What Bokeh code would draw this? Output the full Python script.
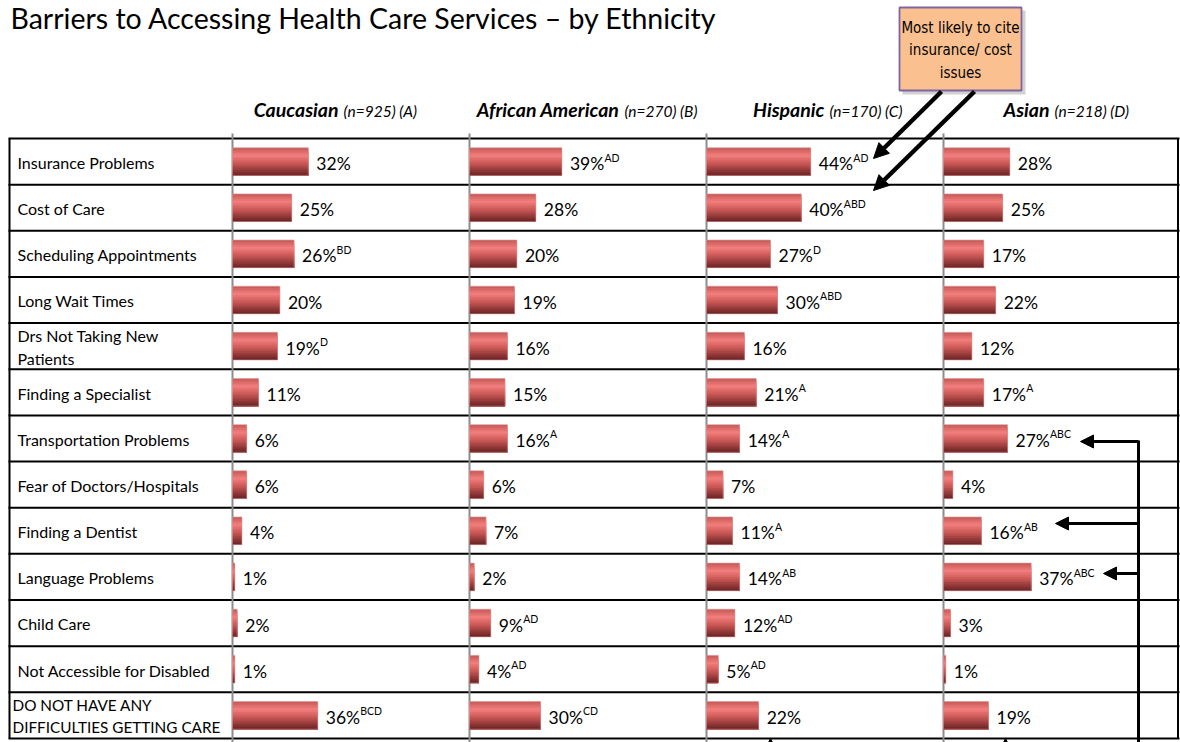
from bokeh.plotting import figure
from bokeh.models import ColumnDataSource, Range1d, Arrow, NormalHead
from bokeh.core.properties import value
from bokeh.embed import file_html
from bokeh.resources import INLINE

# ---------------- data ----------------
barriers = [
    "Insurance Problems",
    "Cost of Care",
    "Scheduling Appointments",
    "Long Wait Times",
    "Drs Not Taking New\nPatients",
    "Finding a Specialist",
    "Transportation Problems",
    "Fear of Doctors/Hospitals",
    "Finding a Dentist",
    "Language Problems",
    "Child Care",
    "Not Accessible for Disabled",
    "DO NOT HAVE ANY\nDIFFICULTIES GETTING CARE",
]
groups = ["Caucasian", "African American", "Hispanic", "Asian"]
group_n = ["(n=925) (A)", "(n=270) (B)", "(n=170) (C)", "(n=218) (D)"]

caucasian = [32, 25, 26, 20, 19, 11, 6, 6, 4, 1, 2, 1, 36]
caucasian_sig = ["", "", "BD", "", "D", "", "", "", "", "", "", "", "BCD"]
african_american = [39, 28, 20, 19, 16, 15, 16, 6, 7, 2, 9, 4, 30]
african_american_sig = ["AD", "", "", "", "", "", "A", "", "", "", "AD", "AD", "CD"]
hispanic = [44, 40, 27, 30, 16, 21, 14, 7, 11, 14, 12, 5, 22]
hispanic_sig = ["AD", "ABD", "D", "ABD", "", "A", "A", "", "A", "AB", "AD", "AD", ""]
asian = [28, 25, 17, 22, 12, 17, 27, 4, 16, 37, 3, 1, 19]
asian_sig = ["", "", "", "", "", "A", "ABC", "", "AB", "ABC", "", "", ""]

values = [caucasian, african_american, hispanic, asian]
sigs = [caucasian_sig, african_american_sig, hispanic_sig, asian_sig]

callout_text = "Most likely to cite\ninsurance/ cost\nissues"
title_text = "Barriers to Accessing Health Care Services \u2013 by Ethnicity"

# ---------------- layout helpers ----------------
W, H = 1180, 742
PX_PER_PCT = 2.37
ROW_PX = 46.15
X0 = -232 / PX_PER_PCT          # left edge of canvas in data units
Y_TOP = -0.5 - 138 / ROW_PX     # top edge of canvas in row units
Y_BOT = Y_TOP + H / ROW_PX


def ux(px):  # canvas pixel -> data x (annotations only)
    return X0 + px / PX_PER_PCT


def uy(py):  # canvas pixel -> data y (annotations only)
    return Y_TOP + py / ROW_PX


PANEL = 100  # each ethnicity panel spans 0..100 %
FONT = "Lato"

p = figure(width=W, height=H, x_range=Range1d(X0, X0 + W / PX_PER_PCT),
           y_range=Range1d(Y_BOT, Y_TOP), output_backend="svg",
           toolbar_location=None, min_border=0, outline_line_color=None)
p.axis.visible = False
p.grid.visible = False
p.background_fill_color = "white"
p.border_fill_color = "white"

n = len(barriers)
rows = list(range(n))

# ---------------- grid ----------------
bounds = [i - 0.5 for i in range(n + 1)]
p.segment(x0=[ux(8)] * len(bounds), x1=[ux(1179)] * len(bounds), y0=bounds, y1=bounds,
          line_color="black", line_width=2)
p.segment(x0=[ux(9), ux(1177.5)], x1=[ux(9), ux(1177.5)], y0=[-0.5, -0.5], y1=[n - 0.5, n - 0.5],
          line_color="black", line_width=2)
panel_x = [g * PANEL for g in range(len(groups))]
p.segment(x0=panel_x, x1=panel_x, y0=[uy(133)] * 4, y1=[Y_BOT] * 4,
          line_color="#8c8c8c", line_width=2)

# ---------------- bars with cylinder gradient ----------------
stops = [(0.0, (196, 88, 86)), (0.28, (242, 126, 124)), (0.55, (205, 90, 88)), (1.0, (104, 34, 34))]


def grad(t):
    for (t0, c0), (t1, c1) in zip(stops[:-1], stops[1:]):
        if t0 <= t <= t1:
            f = (t - t0) / (t1 - t0)
            return "#%02x%02x%02x" % tuple(int(round(a + (b - a) * f)) for a, b in zip(c0, c1))
    return "#%02x%02x%02x" % stops[-1][1]


BAR_H = 0.6
NS = 16
for g, vals in enumerate(values):
    left = [g * PANEL] * n
    right = [g * PANEL + v for v in vals]
    for k in range(NS):
        t = (k + 0.5) / NS
        # each strip runs from its own top down to the bar bottom; later strips
        # paint over the lower part, so there are no seams between strips
        top_off = -BAR_H / 2 + k * BAR_H / NS
        hgt = BAR_H - k * BAR_H / NS
        ys = [r + top_off + hgt / 2 for r in rows]
        p.hbar(y=ys, left=left, right=right, height=hgt,
               fill_color=grad(t), line_color=None)
    p.hbar(y=rows, left=left, right=right, height=BAR_H, fill_color=None,
           line_color="#d99a98", line_width=0.6)

# ---------------- value labels ----------------
DIGIT_W, PCT_W = 10.15, 13.7
for g, (vals, sg) in enumerate(zip(values, sigs)):
    xs = [g * PANEL + v for v in vals]
    labels = ["%d%%" % v for v in vals]
    off = [8 + len(str(v)) * DIGIT_W + PCT_W + 0.5 for v in vals]
    src = ColumnDataSource(dict(x=xs, y=rows, t=labels, s=sg, off=off))
    p.text(x="x", y="y", text="t", source=src, x_offset=8, y_offset=2,
           text_font=value(FONT), text_font_size="17.5px", text_baseline="middle",
           text_align="left", text_color="black")
    p.text(x="x", y="y", text="s", source=src, x_offset="off", y_offset=-4,
           text_font=value(FONT), text_font_size="10.5px", text_baseline="middle",
           text_align="left", text_color="black")

# ---------------- row labels ----------------
label_x = [ux(17)] * (n - 1) + [ux(12)]
label_size = ["16px"] * (n - 1) + ["15.3px"]
p.text(x=label_x, y=[r + 0.02 for r in rows], text=barriers, text_font=value(FONT),
       text_font_size=label_size, text_baseline="middle", text_align="left",
       text_color="black", text_line_height=1.2)

# ---------------- column headers ----------------
split = [45.6, 64.1, 50.6, 45.6]
hx = [g * PANEL + s for g, s in enumerate(split)]
p.text(x=hx, y=[uy(109)] * 4, text=groups, text_font=value(FONT), text_font_size="19.5px",
       text_font_style="bold italic", text_align="right", text_baseline="middle",
       x_offset=-2, text_color="black")
p.text(x=hx, y=[uy(110)] * 4, text=group_n, text_font=value(FONT), text_font_size="15.5px",
       text_font_style="italic", text_align="left", text_baseline="middle",
       x_offset=3, text_color="black")

# ---------------- title ----------------
p.text(x=[ux(10)], y=[uy(17)], text=[title_text], text_font=value(FONT),
       text_font_size="28.5px", text_align="left", text_baseline="middle", text_color="black")

# ---------------- callout box ----------------
p.quad(left=[ux(902)], right=[ux(1025)], top=[uy(10)], bottom=[uy(94)],
       fill_color="#9a9a9a", fill_alpha=0.45, line_color=None)
p.quad(left=[ux(899)], right=[ux(1021)], top=[uy(7)], bottom=[uy(90)],
       fill_color="#fac090", line_color="#8064a2", line_width=1.8)
p.text(x=[ux(960)], y=[uy(50)], text=[callout_text],
       text_font=value("Liberation Sans Narrow, DejaVu Sans Condensed, Liberation Sans"),
       text_font_size="15px", text_align="center", text_baseline="middle",
       text_color="black", text_line_height=1.23)


# ---------------- arrows ----------------
def arrow(x0, y0, x1, y1, lw, size):
    p.add_layout(Arrow(end=NormalHead(size=size, fill_color="black", line_color="black"),
                       x_start=ux(x0), y_start=uy(y0), x_end=ux(x1), y_end=uy(y1),
                       line_width=lw, line_color="black"))


arrow(941, 91, 873, 158, 4.5, 15)
arrow(974, 91, 873, 190, 4.5, 15)

p.segment(x0=[ux(1138)], x1=[ux(1138)], y0=[uy(440)], y1=[Y_BOT], line_color="black", line_width=3)
arrow(1138, 441, 1080, 441, 3, 13)
arrow(1138, 523, 1055, 523, 3, 13)
arrow(1138, 573, 1103, 573, 3, 13)
arrow(770, 790, 770, 738, 3, 13)
arrow(1005, 790, 1005, 738, 3, 13)

open("out.html", "w").write(file_html(p, INLINE))
